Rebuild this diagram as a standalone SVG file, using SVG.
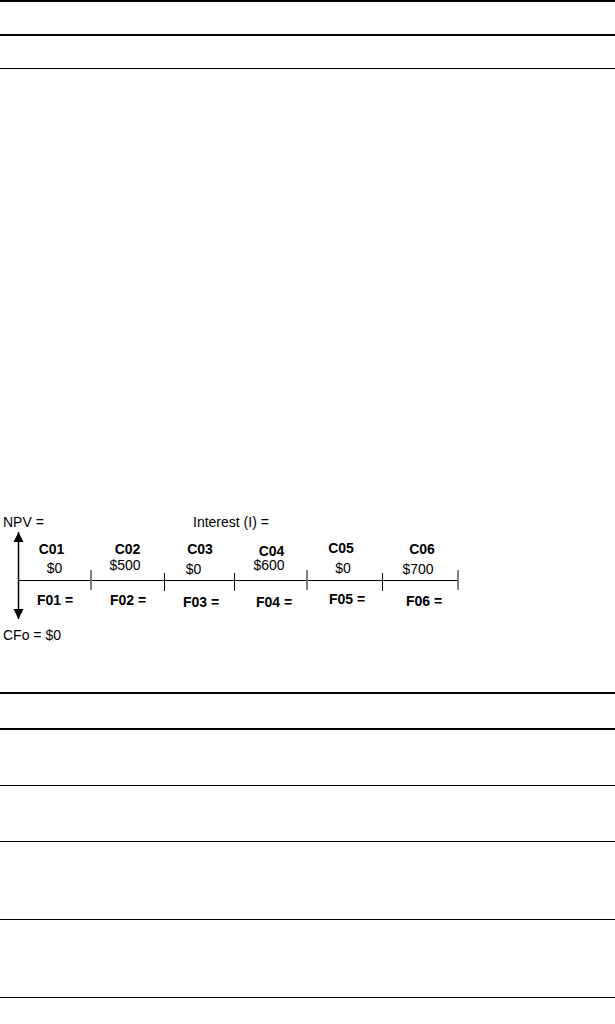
<svg xmlns="http://www.w3.org/2000/svg" width="615" height="1024" viewBox="0 0 615 1024">
<style>
.t{font-family:"Liberation Sans",Arial,sans-serif;font-size:14px;fill:#000}
.b{font-weight:bold;text-anchor:middle}
.m{text-anchor:middle}
.rule{stroke:#000}
.tk{stroke:#000;stroke-width:1}
.tg{stroke:#808080;stroke-width:2}
</style>
<defs>
<marker id="ah" viewBox="0 0 10 10" refX="10" refY="5" markerWidth="10" markerHeight="11" markerUnits="userSpaceOnUse" orient="auto">
<path d="M0,0 L10,5 L0,10 Z" fill="#000"/>
</marker>
</defs>
<rect width="615" height="1024" fill="#fff"/>
<g id="rules">
<line class="rule" x1="0" y1="1" x2="615" y2="1" stroke-width="2"/>
<line class="rule" x1="0" y1="35" x2="615" y2="35" stroke-width="2"/>
<line class="rule" x1="0" y1="68.5" x2="615" y2="68.5" stroke-width="1"/>
<line class="rule" x1="0" y1="693" x2="615" y2="693" stroke-width="2"/>
<line class="rule" x1="0" y1="729" x2="615" y2="729" stroke-width="2"/>
<line class="rule" x1="0" y1="785.5" x2="615" y2="785.5" stroke-width="1"/>
<line class="rule" x1="0" y1="841.5" x2="615" y2="841.5" stroke-width="1"/>
<line class="rule" x1="0" y1="919.5" x2="615" y2="919.5" stroke-width="1"/>
<line class="rule" x1="0" y1="997.5" x2="615" y2="997.5" stroke-width="1"/>
</g>
<g id="connectors">
<line x1="18.5" y1="580" x2="18.5" y2="532" stroke="#000" stroke-width="1.5" marker-end="url(#ah)"/>
<line x1="18.5" y1="580" x2="18.5" y2="619" stroke="#000" stroke-width="1.5" marker-end="url(#ah)"/>
<line x1="18" y1="580.5" x2="458" y2="580.5" stroke="#000" stroke-width="1"/>
<line class="tg" x1="91" y1="570" x2="91" y2="590"/>
<line class="tk" x1="164.5" y1="573" x2="164.5" y2="591"/>
<line class="tk" x1="234.5" y1="573" x2="234.5" y2="591"/>
<line class="tg" x1="307" y1="570" x2="307" y2="590"/>
<line class="tk" x1="382.5" y1="573" x2="382.5" y2="591"/>
<line class="tg" x1="458" y1="570" x2="458" y2="590"/>
</g>
<g id="labels">
<text class="t" x="3" y="527">NPV =</text>
<text class="t" x="193" y="527">Interest (I) =</text>
<text class="t" x="3" y="640">CFo = $0</text>
</g>
<g id="period1"><text class="t b" x="51.5" y="554">C01</text><text class="t m" x="54.5" y="573">$0</text><text class="t b" x="55" y="605">F01 =</text></g>
<g id="period2"><text class="t b" x="127.5" y="554">C02</text><text class="t m" x="125" y="570">$500</text><text class="t b" x="128" y="605">F02 =</text></g>
<g id="period3"><text class="t b" x="200" y="554">C03</text><text class="t m" x="193.5" y="574">$0</text><text class="t b" x="201" y="607">F03 =</text></g>
<g id="period4"><text class="t b" x="271.5" y="556">C04</text><text class="t m" x="269" y="570">$600</text><text class="t b" x="274" y="607">F04 =</text></g>
<g id="period5"><text class="t b" x="341" y="553">C05</text><text class="t m" x="343" y="573">$0</text><text class="t b" x="347" y="604">F05 =</text></g>
<g id="period6"><text class="t b" x="422" y="554">C06</text><text class="t m" x="418" y="574">$700</text><text class="t b" x="424" y="606">F06 =</text></g>
</svg>
